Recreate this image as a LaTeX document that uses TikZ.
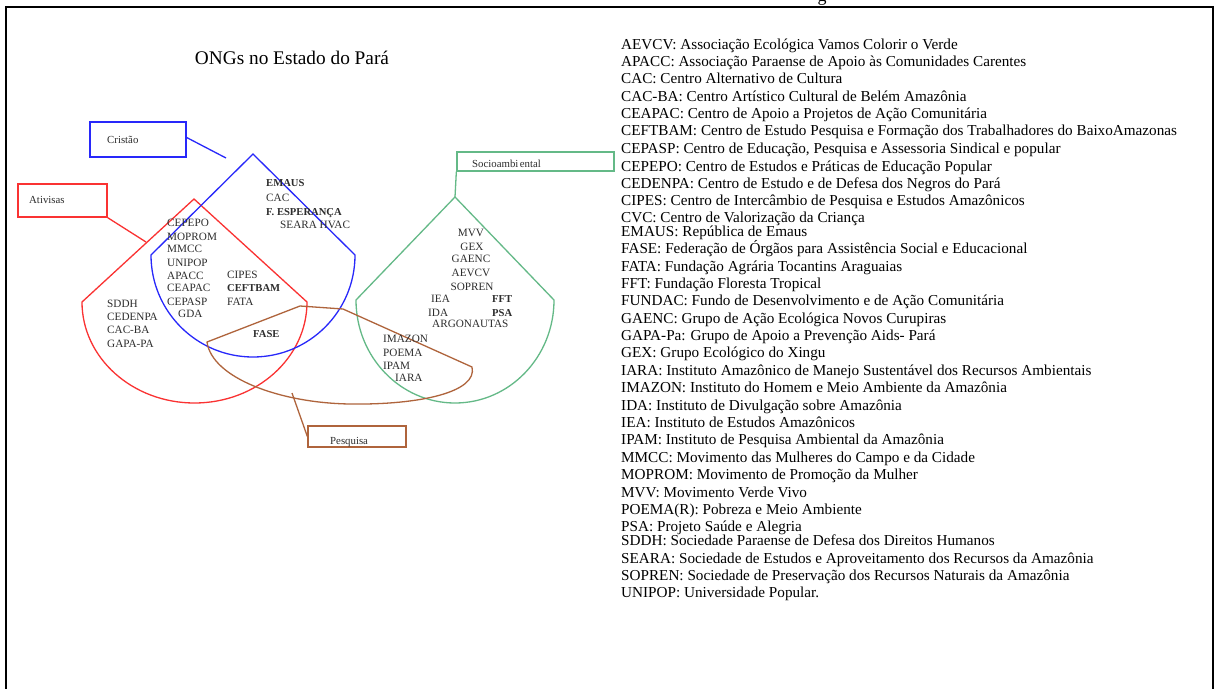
\documentclass[tikz,border=0pt]{standalone}
\usepackage{fontspec}
\setmainfont{Liberation Serif}
\definecolor{cblue}{RGB}{40,40,250}
\definecolor{cred}{RGB}{250,50,50}
\definecolor{cgreen}{RGB}{100,185,135}
\definecolor{cbrown}{RGB}{175,100,60}
\definecolor{ctext}{RGB}{45,45,45}
\begin{document}
\begin{tikzpicture}[x=1pt,y=-1pt,
  outline/.style={line width=1.3pt},
  tagbox/.style={draw,line width=1.3pt,inner sep=0pt},
  tag/.style={anchor=base west,inner sep=0pt,font=\fontsize{10.8}{12}\selectfont,text=ctext},
  org/.style={anchor=base west,inner sep=0pt,font=\fontsize{11.2}{13}\selectfont,text=ctext},
  orgc/.style={anchor=base,inner sep=0pt,font=\fontsize{11.2}{13}\selectfont,text=ctext},
  orgb/.style={org,font=\fontsize{10.6}{13}\selectfont\bfseries},
  item/.style={anchor=base west,inner sep=0pt,font=\fontsize{15.2}{17}\selectfont}]
\useasboundingbox (0,0) rectangle (1218,688);
\clip (0,0) rectangle (1218,688);
\fill[white] (0,0) rectangle (1218,688);
% frame
\draw[line width=1.6pt] (6,700) -- (6,7) -- (1213,7) -- (1213,700);
\node[anchor=base,inner sep=0pt,font=\fontsize{18}{20}\selectfont] (gcut) at (822,1.5) {g};
% title
\node[anchor=base,inner sep=0pt,font=\fontsize{19.3}{21}\selectfont] (title) at (292,64) {ONGs no Estado do Pará};

% ---- shapes ----
\draw[outline,cred] (82,302) -- (194,199) -- (307,302) arc[start angle=0,end angle=180,x radius=112.5,y radius=101] -- cycle;
\draw[outline,cblue] (151,255) -- (253,154) -- (355,255) arc[start angle=0,end angle=180,x radius=102,y radius=102] -- cycle;
\draw[outline,cgreen] (356,300) -- (455,197) -- (554,300) arc[start angle=0,end angle=180,x radius=99,y radius=103] -- cycle;
\draw[outline,cbrown] (207,342) -- (300,306) -- (343,309) -- (472,367)
  .. controls (478,392) and (420,405) .. (350,404)
  .. controls (280,403) and (212,378) .. (207,342) -- cycle;

\coordinate (gapex) at (455,197);
\coordinate (redpt) at (146,242);
\coordinate (bluept) at (226,158);
\coordinate (brownpt) at (292,393);

% ---- tag boxes ----
\node[tagbox,cblue,minimum width=96pt,minimum height=35pt] (cristao) at (138,139.5) {};
\node[tag] (tcristao) at (107,143) {Cristão};
\node[tagbox,cred,minimum width=89pt,minimum height=33pt] (ativ) at (62.5,200.5) {};
\node[tag] (tativ) at (29,203.5) {Ativisas};
\node[tagbox,cgreen,minimum width=157pt,minimum height=19pt] (socio) at (535.5,161.5) {};
\node[tag] (tsocio) at (472,167) {Socioambi\hspace{1.5pt}ental};
\node[tagbox,cbrown,minimum width=98pt,minimum height=21pt] (pesq) at (357,436.5) {};
\node[tag] (tpesq) at (330,444) {Pesquisa};

\draw[outline,cblue] (cristao.east) ++(0,-2) -- (bluept);
\draw[outline,cred] (ativ.south east) -- (redpt);
\draw[outline,cgreen] (socio.south west) -- (gapex);
\draw[outline,cbrown] (pesq.west) -- (brownpt);

% ---- organisations in the diagram ----
\node[orgb] (o1) at (266,186) {EMAUS};
\node[org] (o2) at (266,201) {CAC};
\node[orgb] (o3) at (266,215) {F. ESPERANÇA};
\node[org] (o4) at (280,228) {SEARA HVAC};
\node[org] (o5) at (167,226) {CEPEPO};
\node[org] (o6) at (167,240) {MOPROM};
\node[org] (o7) at (167,252) {MMCC};
\node[org] (o8) at (167,266) {UNIPOP};
\node[org] (o9) at (167,279) {APACC};
\node[org] (o10) at (167,291) {CEAPAC};
\node[org] (o11) at (167,305) {CEPASP};
\node[org] (o12) at (178,317) {GDA};
\node[org] (o13) at (227,278) {CIPES};
\node[orgb] (o14) at (227,291) {CEFTBAM};
\node[org] (o15) at (227,305) {FATA};
\node[org] (o16) at (107,307) {SDDH};
\node[org] (o17) at (107,320) {CEDENPA};
\node[org] (o18) at (107,333) {CAC-BA};
\node[org] (o19) at (107,347) {GAPA-PA};
\node[orgb] (o20) at (253,337) {FASE};
\node[orgc] (o21) at (471,236) {MVV};
\node[orgc] (o22) at (472,250) {GEX};
\node[orgc] (o23) at (471,262) {GAENC};
\node[orgc] (o24) at (471,276) {AEVCV};
\node[orgc] (o25) at (472,290) {SOPREN};
\node[org] (o26) at (431,302) {IEA};
\node[orgb] (o27) at (492,302) {FFT};
\node[org] (o28) at (428,316) {IDA};
\node[orgb] (o29) at (492,316) {PSA};
\node[org] (o30) at (432,327) {ARGONAUTAS};
\node[org] (o31) at (383,342) {IMAZON};
\node[org] (o32) at (383,356) {POEMA};
\node[org] (o33) at (383,369) {IPAM};
\node[org] (o34) at (395,381) {IARA};

% ---- legend ----
\node[item] (l1) at (621,49) {AEVCV: Associação Ecológica Vamos Colorir o Verde};
\node[item] (l2) at (621,66) {APACC: Associação Paraense de Apoio às Comunidades Carentes};
\node[item] (l3) at (621,83) {CAC: Centro Alternativo de Cultura};
\node[item] (l4) at (621,101) {CAC-BA: Centro Artístico Cultural de Belém Amazônia};
\node[item] (l5) at (621,118) {CEAPAC: Centro de Apoio a Projetos de Ação Comunitária};
\node[item] (l6) at (621,135) {CEFTBAM: Centro de Estudo Pesquisa e Formação dos Trabalhadores do BaixoAmazonas};
\node[item] (l7) at (621,153) {CEPASP: Centro de Educação, Pesquisa e Assessoria Sindical e popular};
\node[item] (l8) at (621,171) {CEPEPO: Centro de Estudos e Práticas de Educação Popular};
\node[item] (l9) at (621,188) {CEDENPA: Centro de Estudo e de Defesa dos Negros do Pará};
\node[item] (l10) at (621,205) {CIPES: Centro de Intercâmbio de Pesquisa e Estudos Amazônicos};
\node[item] (l11) at (621,222) {CVC: Centro de Valorização da Criança};
\node[item] (l12) at (621,236) {EMAUS: República de Emaus};
\node[item] (l13) at (621,253) {FASE: Federação de Órgãos para Assistência Social e Educacional};
\node[item] (l14) at (621,271) {FATA: Fundação Agrária Tocantins Araguaias};
\node[item] (l15) at (621,288) {FFT: Fundação Floresta Tropical};
\node[item] (l16) at (621,305) {FUNDAC: Fundo de Desenvolvimento e de Ação Comunitária};
\node[item] (l17) at (621,323) {GAENC: Grupo de Ação Ecológica Novos Curupiras};
\node[item] (l18) at (621,340) {GAPA-Pa: Grupo de Apoio a Prevenção Aids- Pará};
\node[item] (l19) at (621,357) {GEX: Grupo Ecológico do Xingu};
\node[item] (l20) at (621,375) {IARA: Instituto Amazônico de Manejo Sustentável dos Recursos Ambientais};
\node[item] (l21) at (621,392) {IMAZON: Instituto do Homem e Meio Ambiente da Amazônia};
\node[item] (l22) at (621,410) {IDA: Instituto de Divulgação sobre Amazônia};
\node[item] (l23) at (621,427) {IEA: Instituto de Estudos Amazônicos};
\node[item] (l24) at (621,444) {IPAM: Instituto de Pesquisa Ambiental da Amazônia};
\node[item] (l25) at (621,462) {MMCC: Movimento das Mulheres do Campo e da Cidade};
\node[item] (l26) at (621,479) {MOPROM: Movimento de Promoção da Mulher};
\node[item] (l27) at (621,497) {MVV: Movimento Verde Vivo};
\node[item] (l28) at (621,514) {POEMA(R): Pobreza e Meio Ambiente};
\node[item] (l29) at (621,531) {PSA: Projeto Saúde e Alegria};
\node[item] (l30) at (621,545) {SDDH: Sociedade Paraense de Defesa dos Direitos Humanos};
\node[item] (l31) at (621,563) {SEARA: Sociedade de Estudos e Aproveitamento dos Recursos da Amazônia};
\node[item] (l32) at (621,580) {SOPREN: Sociedade de Preservação dos Recursos Naturais da Amazônia};
\node[item] (l33) at (621,597) {UNIPOP: Universidade Popular.};
\end{tikzpicture}
\end{document}
